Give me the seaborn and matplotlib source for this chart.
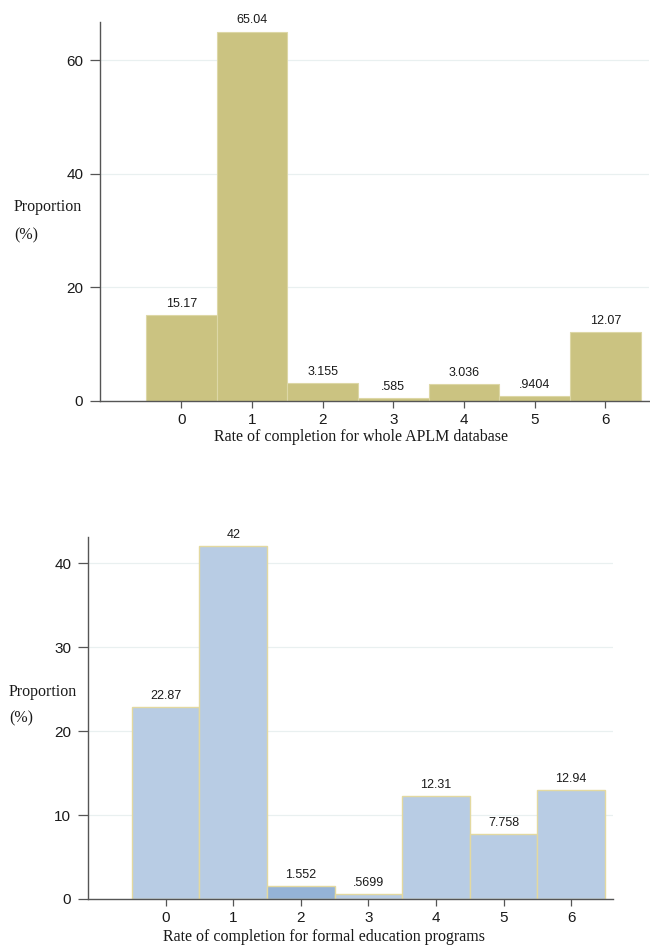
import matplotlib
matplotlib.use("Agg")
import matplotlib.pyplot as plt
import seaborn as sns
import pandas as pd

# data
rates = [0, 1, 2, 3, 4, 5, 6]
aplm_pct = [15.17, 65.04, 3.155, 0.585, 3.036, 0.9404, 12.07]
aplm_labels = ["15.17", "65.04", "3.155", ".585", "3.036", ".9404", "12.07"]
formal_pct = [22.87, 42.0, 1.552, 0.5699, 12.31, 7.758, 12.94]
formal_labels = ["22.87", "42", "1.552", ".5699", "12.31", "7.758", "12.94"]

sns.set_style("white")
serif = ["Liberation Serif", "DejaVu Serif"]
sans = ["Liberation Sans", "DejaVu Sans"]
plt.rcParams["font.family"] = sans

fig = plt.figure(figsize=(6.5, 9.47), dpi=100)
ax1 = fig.add_axes([0.1538, 0.5766, 0.845, 0.400])
ax2 = fig.add_axes([0.1354, 0.0507, 0.8076, 0.3822])

top_colors = ["#cbc381"] * 7
bot_colors = ["#b8cce4", "#b8cce4", "#95b3d7", "#b8cce4", "#b8cce4", "#b8cce4", "#b8cce4"]

df1 = pd.DataFrame({"rate": rates, "pct": aplm_pct})
df2 = pd.DataFrame({"rate": rates, "pct": formal_pct})

sns.barplot(data=df1, x="rate", y="pct", hue="rate", palette=top_colors,
            width=1.0, edgecolor="#ddd7a6", linewidth=0.8, legend=False,
            saturation=1, ax=ax1)
sns.barplot(data=df2, x="rate", y="pct", hue="rate", palette=bot_colors,
            width=1.0, edgecolor="#e3d9a0", linewidth=1.0, legend=False,
            saturation=1, ax=ax2)

panels = [
    (ax1, aplm_pct, aplm_labels, 66.7, [0, 20, 40, 60], 0.9),
    (ax2, formal_pct, formal_labels, 43.1, [0, 10, 20, 30, 40], 0.6),
]
for ax, vals, labs, ytop, yt, off in panels:
    ax.set_xlim(-1.15, 6.62)
    ax.set_ylim(0, ytop)
    ax.set_yticks(yt)
    ax.set_xticks(rates)
    ax.set_xticklabels([str(r) for r in rates])
    ax.set_xlabel("")
    ax.set_ylabel("")
    ax.yaxis.grid(True, color="#e9f0f0", linewidth=0.9)
    ax.set_axisbelow(True)
    for s in ["top", "right"]:
        ax.spines[s].set_visible(False)
    for s in ["left", "bottom"]:
        ax.spines[s].set_color("#555555")
        ax.spines[s].set_linewidth(1.0)
    ax.tick_params(axis="both", which="major", bottom=True, left=True,
                   length=5, width=0.9, color="#555555",
                   labelsize=11, labelcolor="#1a1a1a", pad=4)
    for x, v, t in zip(rates, vals, labs):
        ax.text(x, v + off, t, ha="center", va="bottom", fontsize=9,
                color="#1a1a1a", family=sans)

ax1.tick_params(axis="y", length=7, pad=5)
ax2.tick_params(axis="y", length=7, pad=5)

# axis titles
fig.text(14 / 650, 1 - 207 / 947, "Proportion", family=serif, fontsize=11.5,
         ha="left", va="center", color="#1a1a1a")
fig.text(14 / 650, 1 - 235 / 947, "(%)", family=serif, fontsize=11.5,
         ha="left", va="center", color="#1a1a1a")
fig.text(9 / 650, 1 - 692 / 947, "Proportion", family=serif, fontsize=11.5,
         ha="left", va="center", color="#1a1a1a")
fig.text(9 / 650, 1 - 718 / 947, "(%)", family=serif, fontsize=11.5,
         ha="left", va="center", color="#1a1a1a")
fig.text(361 / 650, 1 - 437 / 947, "Rate of completion for whole APLM database",
         family=serif, fontsize=11.5, ha="center", va="center", color="#1a1a1a")
fig.text(324 / 650, 1 - 937 / 947, "Rate of completion for formal education programs",
         family=serif, fontsize=11.5, ha="center", va="center", color="#1a1a1a")

fig.savefig("out.png", dpi=100)
